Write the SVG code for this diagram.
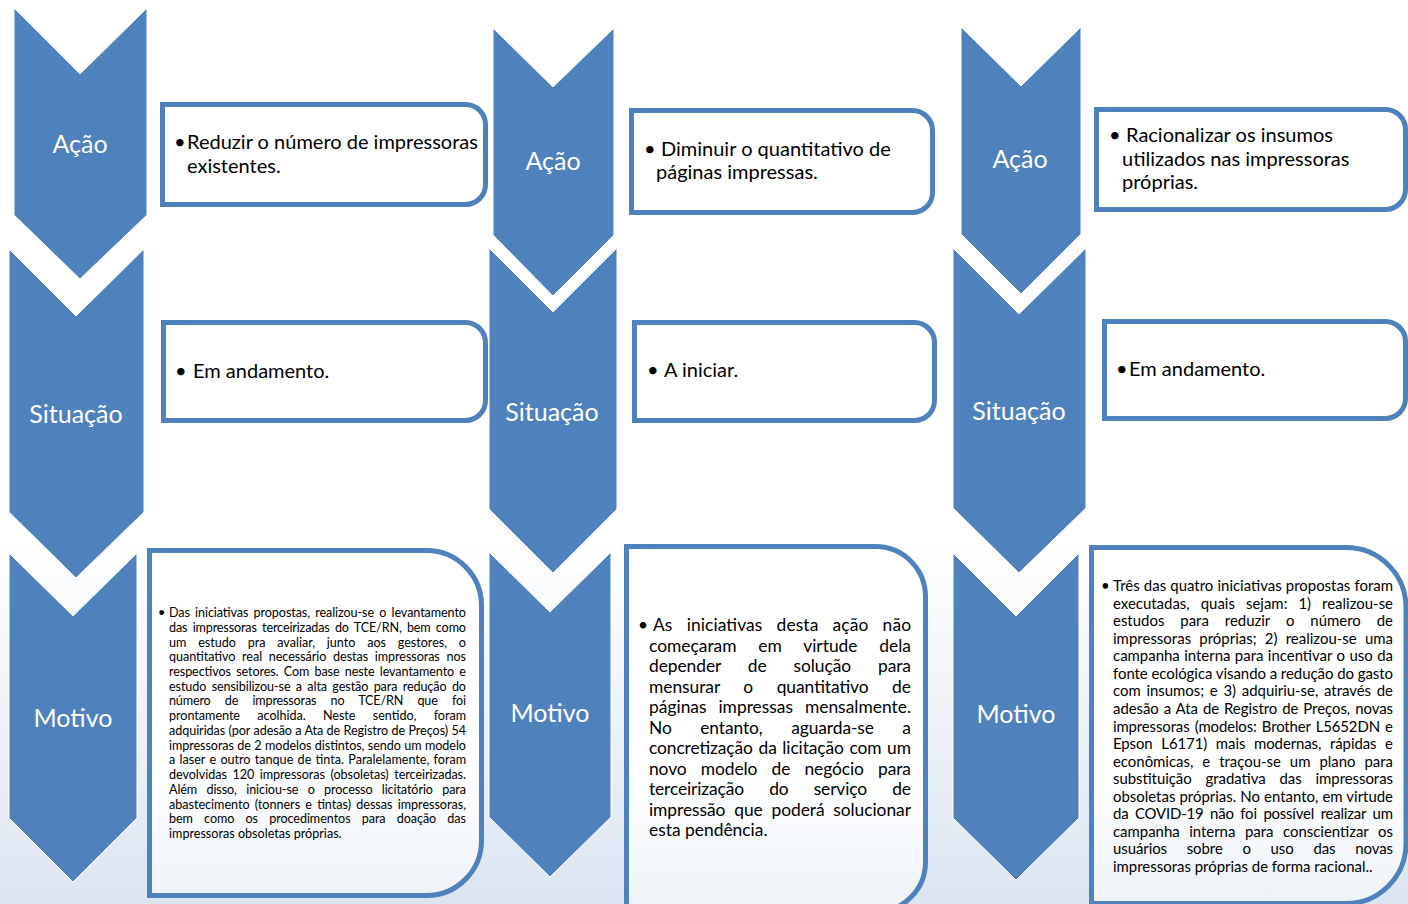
<svg xmlns="http://www.w3.org/2000/svg" width="1408" height="904" viewBox="0 0 1408 904">
<defs>
<linearGradient id="bg" x1="0" y1="0" x2="0" y2="1">
<stop offset="0" stop-color="#ffffff"/>
<stop offset="0.6" stop-color="#ffffff"/>
<stop offset="1" stop-color="#dbe5f1"/>
</linearGradient>
<linearGradient id="boxg" x1="0" y1="0" x2="0" y2="1">
<stop offset="0" stop-color="#ffffff"/>
<stop offset="0.6" stop-color="#ffffff"/>
<stop offset="1" stop-color="#eef3f9"/>
</linearGradient>
<style>
.chev{fill:#4f81bd;stroke:#ffffff;stroke-width:1}
.lbl{font-family:Lato,"Open Sans",sans-serif;font-size:25px;fill:#ffffff;text-anchor:middle}
.box{fill:#ffffff;stroke:#4f81bd;stroke-width:5}
.mbox{fill:url(#boxg);stroke:#4f81bd;stroke-width:5}
.t{font-family:Lato,"Open Sans",sans-serif;font-size:20px;fill:#000000}
.m1{font-family:Lato,"Open Sans",sans-serif;font-size:12.6px;fill:#000000}
.m2{font-family:Lato,"Open Sans",sans-serif;font-size:17.4px;fill:#000000}
.m3{font-family:Lato,"Open Sans",sans-serif;font-size:14.95px;fill:#000000}
</style>
</defs>
<rect x="0" y="0" width="1408" height="904" fill="url(#bg)"/>

<g id="connectors"></g>

<!-- Column 1 -->
<g id="acao1">
<polygon class="chev" points="14,8 80,74 147,8 147,215 80,279 14,215"/>
<text class="lbl" x="80" y="153">Ação</text>
</g>
<g id="situacao1">
<polygon class="chev" points="9,249 76,316 144,249 144,512 76,578 9,512"/>
<text class="lbl" x="76" y="423">Situação</text>
</g>
<g id="motivo1">
<polygon class="chev" points="9,553 73,616 137,553 137,818 73,882 9,818"/>
<text class="lbl" x="73" y="727">Motivo</text>
</g>
<g id="acao1-box">
<path class="box" d="M162.5,104.5 H465.5 A20,20 0 0 1 485.5,124.5 V184.5 A20,20 0 0 1 465.5,204.5 H162.5 Z"/>
<text class="t" x="174" y="149">•</text>
<text class="t" x="187" y="149">Reduzir o número de impressoras</text>
<text class="t" x="187" y="173">existentes.</text>
</g>
<g id="situacao1-box">
<path class="box" d="M163.5,322.5 H465.5 A20,20 0 0 1 485.5,342.5 V400.5 A20,20 0 0 1 465.5,420.5 H163.5 Z"/>
<text class="t" x="175" y="378">•</text>
<text class="t" x="193" y="378">Em andamento.</text>
</g>
<g id="motivo1-box">
<path class="mbox" d="M149.5,550.5 H426.5 A55,55 0 0 1 481.5,605.5 V840.5 A55,55 0 0 1 426.5,895.5 H149.5 Z"/>
<text class="m1" x="158" y="617">•</text>
<text class="m1" x="169" y="617" style="word-spacing:2.1px" textLength="297" lengthAdjust="spacing">Das iniciativas propostas, realizou-se o levantamento</text>
<text class="m1" x="169" y="631.7" style="word-spacing:2.2px" textLength="297" lengthAdjust="spacing">das impressoras terceirizadas do TCE/RN, bem como</text>
<text class="m1" x="169" y="646.5" style="word-spacing:8.6px" textLength="297" lengthAdjust="spacing">um estudo pra avaliar, junto aos gestores, o</text>
<text class="m1" x="169" y="661.2" style="word-spacing:3.6px" textLength="297" lengthAdjust="spacing">quantitativo real necessário destas impressoras nos</text>
<text class="m1" x="169" y="675.9" style="word-spacing:2.1px" textLength="297" lengthAdjust="spacing">respectivos setores. Com base neste levantamento e</text>
<text class="m1" x="169" y="690.7" style="word-spacing:2.2px" textLength="297" lengthAdjust="spacing">estudo sensibilizou-se a alta gestão para redução do</text>
<text class="m1" x="169" y="705.4" style="word-spacing:11.2px" textLength="297" lengthAdjust="spacing">número de impressoras no TCE/RN que foi</text>
<text class="m1" x="169" y="720.1" style="word-spacing:14.1px" textLength="297" lengthAdjust="spacing">prontamente acolhida. Neste sentido, foram</text>
<text class="m1" x="169" y="734.8" style="word-spacing:0.2px" textLength="297" lengthAdjust="spacing">adquiridas (por adesão a Ata de Registro de Preços) 54</text>
<text class="m1" x="169" y="749.6" style="word-spacing:0.3px" textLength="297" lengthAdjust="spacing">impressoras de 2 modelos distintos, sendo um modelo</text>
<text class="m1" x="169" y="764.3" style="word-spacing:1.1px" textLength="297" lengthAdjust="spacing">a laser e outro tanque de tinta. Paralelamente, foram</text>
<text class="m1" x="169" y="779" style="word-spacing:2.4px" textLength="297" lengthAdjust="spacing">devolvidas 120 impressoras (obsoletas) terceirizadas.</text>
<text class="m1" x="169" y="793.8" style="word-spacing:6.2px" textLength="297" lengthAdjust="spacing">Além disso, iniciou-se o processo licitatório para</text>
<text class="m1" x="169" y="808.5" style="word-spacing:2px" textLength="297" lengthAdjust="spacing">abastecimento (tonners e tintas) dessas impressoras,</text>
<text class="m1" x="169" y="823.2" style="word-spacing:8px" textLength="297" lengthAdjust="spacing">bem como os procedimentos para doação das</text>
<text class="m1" x="169" y="838">impressoras obsoletas próprias.</text>
</g>

<!-- Column 2 -->
<g id="acao2">
<polygon class="chev" points="493,28 553,87 614,28 614,235 553,296 493,235"/>
<text class="lbl" x="553" y="170">Ação</text>
</g>
<g id="situacao2">
<polygon class="chev" points="489,248 553,312 617,248 617,509 553,573 489,509"/>
<text class="lbl" x="552" y="421">Situação</text>
</g>
<g id="motivo2">
<polygon class="chev" points="489,552 550,612 611,552 611,817 550,877 489,817"/>
<text class="lbl" x="550" y="722">Motivo</text>
</g>
<g id="acao2-box">
<path class="box" d="M631.5,110.5 H912.5 A20,20 0 0 1 932.5,130.5 V192.5 A20,20 0 0 1 912.5,212.5 H631.5 Z"/>
<text class="t" x="644" y="156">•</text>
<text class="t" x="661" y="156">Diminuir o quantitativo de</text>
<text class="t" x="656" y="179">páginas impressas.</text>
</g>
<g id="situacao2-box">
<path class="box" d="M634.5,322.5 H914.5 A20,20 0 0 1 934.5,342.5 V400.5 A20,20 0 0 1 914.5,420.5 H634.5 Z"/>
<text class="t" x="647" y="377">•</text>
<text class="t" x="664" y="377">A iniciar.</text>
</g>
<g id="motivo2-box">
<path class="mbox" d="M626.5,546.5 H875.5 A50,50 0 0 1 925.5,596.5 V862 A50,50 0 0 1 875.5,912 H626.5 Z"/>
<text class="m2" x="638" y="631">•</text>
<text class="m2" x="653" y="631" style="word-spacing:9.6px" textLength="258" lengthAdjust="spacing">As iniciativas desta ação não</text>
<text class="m2" x="649" y="651.5" style="word-spacing:17.4px" textLength="262" lengthAdjust="spacing">começaram em virtude dela</text>
<text class="m2" x="649" y="672" style="word-spacing:22.5px" textLength="262" lengthAdjust="spacing">depender de solução para</text>
<text class="m2" x="649" y="692.5" style="word-spacing:19.1px" textLength="262" lengthAdjust="spacing">mensurar o quantitativo de</text>
<text class="m2" x="649" y="713" style="word-spacing:7.4px" textLength="262" lengthAdjust="spacing">páginas impressas mensalmente.</text>
<text class="m2" x="649" y="733.5" style="word-spacing:24.1px" textLength="262" lengthAdjust="spacing">No entanto, aguarda-se a</text>
<text class="m2" x="649" y="754" style="word-spacing:1.3px" textLength="262" lengthAdjust="spacing">concretização da licitação com um</text>
<text class="m2" x="649" y="774.5" style="word-spacing:9.9px" textLength="262" lengthAdjust="spacing">novo modelo de negócio para</text>
<text class="m2" x="649" y="795" style="word-spacing:20.9px" textLength="262" lengthAdjust="spacing">terceirização do serviço de</text>
<text class="m2" x="649" y="815.5" style="word-spacing:4.4px" textLength="262" lengthAdjust="spacing">impressão que poderá solucionar</text>
<text class="m2" x="649" y="836">esta pendência.</text>
</g>

<!-- Column 3 -->
<g id="acao3">
<polygon class="chev" points="961,27 1021,86 1081,27 1081,234 1021,294 961,234"/>
<text class="lbl" x="1020" y="168">Ação</text>
</g>
<g id="situacao3">
<polygon class="chev" points="953,248 1019,314 1086,248 1086,508 1019,573 953,508"/>
<text class="lbl" x="1019" y="420">Situação</text>
</g>
<g id="motivo3">
<polygon class="chev" points="953,553 1016,616 1079,553 1079,818 1016,880 953,818"/>
<text class="lbl" x="1016" y="723">Motivo</text>
</g>
<g id="acao3-box">
<path class="box" d="M1096.5,109.5 H1385.5 A20,20 0 0 1 1405.5,129.5 V189.5 A20,20 0 0 1 1385.5,209.5 H1096.5 Z"/>
<text class="t" x="1109" y="142">•</text>
<text class="t" x="1126" y="142">Racionalizar os insumos</text>
<text class="t" x="1122" y="166">utilizados nas impressoras</text>
<text class="t" x="1122" y="189">próprias.</text>
</g>
<g id="situacao3-box">
<path class="box" d="M1104.5,321.5 H1385.5 A20,20 0 0 1 1405.5,341.5 V398.5 A20,20 0 0 1 1385.5,418.5 H1104.5 Z"/>
<text class="t" x="1116" y="376">•</text>
<text class="t" x="1129" y="376">Em andamento.</text>
</g>
<g id="motivo3-box">
<path class="mbox" d="M1091.5,547.5 H1346 A60,60 0 0 1 1406,607.5 V843.5 A60,60 0 0 1 1346,903.5 H1091.5 Z"/>
<text class="m3" x="1101" y="591">•</text>
<text class="m3" x="1113" y="591" style="word-spacing:0.4px" textLength="280" lengthAdjust="spacing">Três das quatro iniciativas propostas foram</text>
<text class="m3" x="1113" y="608.6" style="word-spacing:7.2px" textLength="280" lengthAdjust="spacing">executadas, quais sejam: 1) realizou-se</text>
<text class="m3" x="1113" y="626.1" style="word-spacing:12.1px" textLength="280" lengthAdjust="spacing">estudos para reduzir o número de</text>
<text class="m3" x="1113" y="643.7" style="word-spacing:4.3px" textLength="280" lengthAdjust="spacing">impressoras próprias; 2) realizou-se uma</text>
<text class="m3" x="1113" y="661.2" style="word-spacing:0.6px" textLength="280" lengthAdjust="spacing">campanha interna para incentivar o uso da</text>
<text class="m3" x="1113" y="678.8" textLength="280" lengthAdjust="spacing">fonte ecológica visando a redução do gasto</text>
<text class="m3" x="1113" y="696.4" style="word-spacing:1.9px" textLength="280" lengthAdjust="spacing">com insumos; e 3) adquiriu-se, através de</text>
<text class="m3" x="1113" y="713.9" style="word-spacing:1.2px" textLength="280" lengthAdjust="spacing">adesão a Ata de Registro de Preços, novas</text>
<text class="m3" x="1113" y="731.5" style="word-spacing:1.5px" textLength="280" lengthAdjust="spacing">impressoras (modelos: Brother L5652DN e</text>
<text class="m3" x="1113" y="749" style="word-spacing:5px" textLength="280" lengthAdjust="spacing">Epson L6171) mais modernas, rápidas e</text>
<text class="m3" x="1113" y="766.6" style="word-spacing:5.2px" textLength="280" lengthAdjust="spacing">econômicas, e traçou-se um plano para</text>
<text class="m3" x="1113" y="784.2" style="word-spacing:10.1px" textLength="280" lengthAdjust="spacing">substituição gradativa das impressoras</text>
<text class="m3" x="1113" y="801.7" style="word-spacing:0.3px" textLength="280" lengthAdjust="spacing">obsoletas próprias. No entanto, em virtude</text>
<text class="m3" x="1113" y="819.3" style="word-spacing:3px" textLength="280" lengthAdjust="spacing">da COVID-19 não foi possível realizar um</text>
<text class="m3" x="1113" y="836.8" style="word-spacing:5.8px" textLength="280" lengthAdjust="spacing">campanha interna para conscientizar os</text>
<text class="m3" x="1113" y="854.4" style="word-spacing:16px" textLength="280" lengthAdjust="spacing">usuários sobre o uso das novas</text>
<text class="m3" x="1113" y="872">impressoras próprias de forma racional..</text>
</g>
</svg>
